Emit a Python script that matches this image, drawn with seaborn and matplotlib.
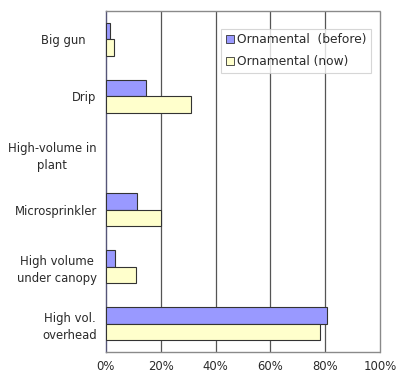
import matplotlib
matplotlib.use("Agg")
import matplotlib.pyplot as plt
import matplotlib.ticker as mticker
import numpy as np
import pandas as pd
import seaborn as sns

categories = ["Big gun   ", "Drip", "High-volume in\nplant", "Microsprinkler",
              "High volume\nunder canopy", "High vol.\noverhead"]
before = [1.5, 14.6, 0.0, 11.5, 3.3, 80.7]
now = [3.0, 31.2, 0.0, 20.3, 10.9, 78.2]
series = ["Ornamental  (before)", "Ornamental (now)"]
x_ticks = [0, 20, 40, 60, 80, 100]

df = pd.DataFrame({
    "category": categories * 2,
    "value": before + now,
    "series": [series[0]] * len(categories) + [series[1]] * len(categories),
})

sns.set_style("white")
plt.rcParams["font.family"] = ["DejaVu Sans"]

fig = plt.figure(figsize=(3.96, 3.77), dpi=100)
ax = fig.add_axes([0.267, 0.066, 0.693, 0.905])

palette = {series[0]: "#9999FF", series[1]: "#FFFFCC"}
sns.barplot(data=df, y="category", x="value", hue="series", orient="h",
            palette=palette, width=0.58, edgecolor="#333333", linewidth=0.8,
            saturation=1, ax=ax, zorder=3)

# empty categories get no outline
for patch in ax.patches:
    if patch.get_width() == 0:
        patch.set_linewidth(0)

ax.set_xlim(0, 100)
ax.set_xticks(x_ticks)
ax.xaxis.set_major_formatter(mticker.FuncFormatter(lambda v, p: f"{v:.0f}%"))
ax.set_xlabel("")
ax.set_ylabel("")

n = len(categories)
ax.set_ylim(n - 0.5, -0.5)
ax.set_yticks(np.arange(n))
ax.set_yticklabels(categories, ha="right", multialignment="center", linespacing=1.4)
ax.yaxis.set_minor_locator(mticker.FixedLocator(np.arange(-0.5, n, 1.0)))
ax.tick_params(axis="y", which="major", length=0, pad=6.5, labelsize=8.4, colors="#2a2a2a")
ax.tick_params(axis="y", which="minor", length=3, color="#555555", direction="out")
ax.tick_params(axis="x", which="major", length=3, color="#555555", labelsize=8.4,
               pad=3, colors="#2a2a2a")

for v in x_ticks[1:-1]:
    ax.axvline(v, color="#555555", linewidth=0.9, zorder=1)

for side, sp in ax.spines.items():
    sp.set_visible(True)
    sp.set_color("#8a8a8a")
    sp.set_linewidth(1.0)
    if side in ("top", "right", "bottom"):
        sp.set_linestyle((0, (2, 1)))
ax.spines["left"].set_color("#555577")

leg = ax.legend(loc="upper right", bbox_to_anchor=(0.965, 0.947), fontsize=8.8,
                frameon=True, fancybox=False, edgecolor="#cccccc",
                handlelength=0.65, handleheight=0.65, handletextpad=0.25,
                borderpad=0.35, labelspacing=0.75, borderaxespad=0)
leg.get_frame().set_linewidth(0.8)
for t in leg.get_texts():
    t.set_color("#2a2a2a")
for h in leg.legend_handles:
    h.set_edgecolor("#333333")
    h.set_linewidth(0.6)

fig.savefig("out.png", dpi=100)
